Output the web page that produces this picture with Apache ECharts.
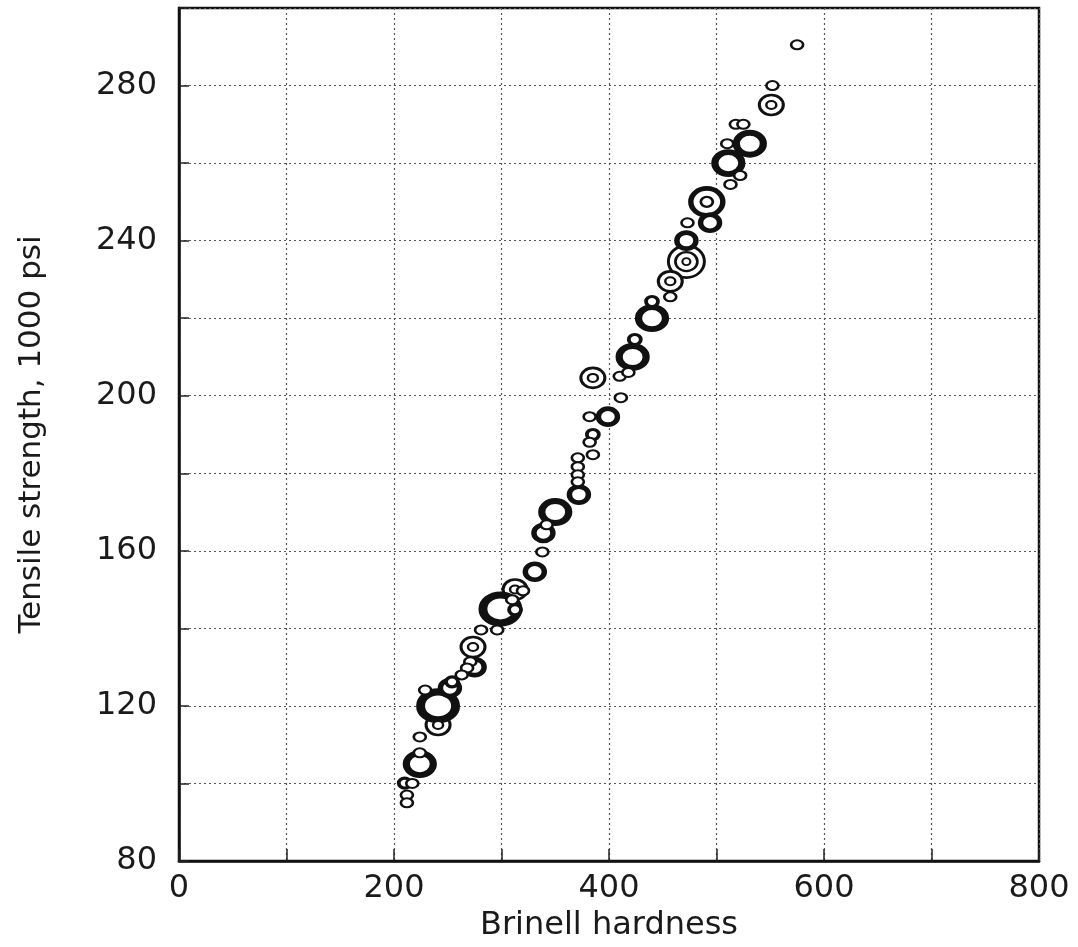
<!DOCTYPE html>
<html>
<head>
<meta charset="utf-8">
<script src="https://cdn.jsdelivr.net/npm/echarts@6/dist/echarts.min.js"></script>
<style>
html,body{margin:0;padding:0;background:#fff;}
#chart{width:1078px;height:947px;}
</style>
</head>
<body>
<div id="chart"></div>
<script>
// Brinell hardness (x) vs tensile strength, 1000 psi (y)
const xTicks = [0, 200, 400, 600, 800];
const yTicks = [80, 120, 160, 200, 240, 280];

const smallRings = [
  [575, 290.5], [552, 280], [518, 270], [525, 270], [510, 265], [522, 256.8], [513, 254.5],
  [473, 244.6], [457, 225.5], [410, 205], [418, 206], [411, 199.5], [382, 194.6], [382, 188],
  [371, 184], [385, 184.8], [371, 181.7], [371, 179.6], [371, 177.8], [342, 166.7],
  [338, 159.7], [320, 149.7], [310, 147.4], [281, 139.6], [296, 139.6], [271, 131.4],
  [268, 129.8], [263, 128], [229, 124.1], [224, 112], [224, 107.9], [217, 100], [212, 97], [212, 95]
];
const smallThick = [
  [440, 224.3], [424, 214.5], [385, 190], [312.6, 144.8], [254, 126.2], [210, 100.1]
];
const mediumThick = [
  [494, 244.6], [472, 240], [399, 194.6], [339, 164.6], [331, 154.6], [275, 130], [252, 124.6], [372, 174.5]
];
const bigThick = [
  [531, 265], [511, 260], [440, 220], [422, 210], [350, 170], [224, 105]
];
const largestThick = [
  [299, 145], [241, 120]
];
const doubleRings = [
  [551, 275], [457, 229.5], [385, 204.6], [312.6, 150], [273.5, 135.2], [241, 115.1]
];
const bigDouble = [
  [491, 250]
];
const tripleRings = [
  [472, 234.6]
];

function ring(name, data, size, border, z) {
  return {
    name: name,
    type: 'scatter',
    data: data,
    symbol: 'circle',
    symbolSize: size,
    z: z,
    silent: true,
    itemStyle: { color: '#ffffff', borderColor: '#111111', borderWidth: border, opacity: 1 }
  };
}

const chart = echarts.init(document.getElementById('chart'));
const FONT = 'DejaVu Sans';
chart.setOption({
  animation: false,
  backgroundColor: '#ffffff',
  grid: {
    left: 179, right: 39, top: 8, bottom: 86,
    containLabel: false, outerBoundsMode: 'none',
    show: true, borderColor: '#111111', borderWidth: 2.5, backgroundColor: 'transparent'
  },
  xAxis: {
    type: 'value', min: 0, max: 800, interval: 100,
    name: 'Brinell hardness', nameLocation: 'middle', nameGap: 48,
    nameTextStyle: { fontFamily: FONT, fontSize: 32, color: '#1a1a1a' },
    axisLine: { show: true, lineStyle: { color: '#111111', width: 2.5 } },
    axisTick: { show: true, inside: true, length: 12, lineStyle: { color: '#222', width: 1.5 } },
    splitLine: { show: true, lineStyle: { color: '#555555', type: [2, 3], width: 1.2 } },
    axisLabel: {
      fontFamily: FONT, fontSize: 32, color: '#1a1a1a', margin: 12,
      formatter: v => xTicks.includes(v) ? String(v) : ''
    }
  },
  yAxis: {
    type: 'value', min: 80, max: 300, interval: 20,
    name: 'Tensile strength, 1000 psi', nameLocation: 'middle', nameGap: 132, nameRotate: 90,
    nameTextStyle: { fontFamily: FONT, fontSize: 31, color: '#1a1a1a' },
    axisLine: { show: true, lineStyle: { color: '#111111', width: 2.5 } },
    axisTick: { show: true, inside: true, length: 10, lineStyle: { color: '#222', width: 1.5 } },
    splitLine: { show: true, lineStyle: { color: '#555555', type: [2, 3], width: 1.2 } },
    axisLabel: {
      fontFamily: FONT, fontSize: 32, color: '#1a1a1a', margin: 22,
      formatter: v => yTicks.includes(v) ? String(v) : ''
    }
  },
  series: [
    ring('triple-outer', tripleRings, [36, 32], 2.8, 10),
    ring('triple-mid', tripleRings, [22, 19], 2.5, 11),
    ring('triple-inner', tripleRings, [8, 7], 2, 12),
    ring('bigdouble-outer', bigDouble, [32, 27], 5, 10),
    ring('bigdouble-inner', bigDouble, [12, 10], 2.5, 11),
    ring('double-outer', doubleRings, [24, 20], 2.8, 10),
    ring('double-inner', doubleRings, [10, 8], 2.2, 11),
    ring('largest-thick', largestThick, [35, 28], 8, 10),
    ring('big-thick', bigThick, [27, 22], 6.5, 10),
    ring('medium-thick', mediumThick, [19, 16], 5, 11),
    ring('small-thick', smallThick, [12, 10], 3.5, 12),
    ring('small', smallRings, [12, 9], 2.3, 13)
  ]
});
</script>
</body>
</html>
